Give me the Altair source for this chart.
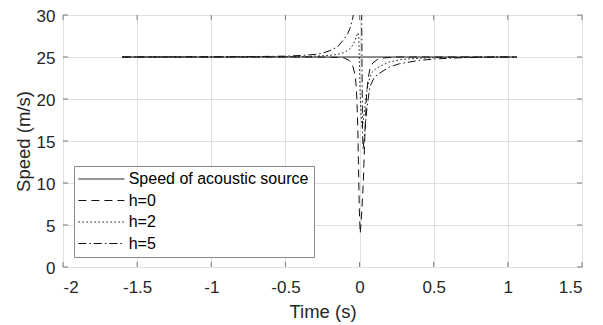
import altair as alt
import pandas as pd

# ---------------- data ----------------
series_names = ["Speed of acoustic source", "h=0", "h=2", "h=5"]

t_src = [-1.6, 1.06]
v_src = [25, 25]

t_h0 = [-1.6, -0.6, -0.3, -0.15, -0.1, -0.07, -0.05, -0.035, -0.025, -0.018, -0.012,
        -0.007, -0.002, 0.004, 0.009, 0.016, 0.025, 0.036, 0.047, 0.058, 0.07, 0.09,
        0.12, 0.17, 0.25, 1.06]
v_h0 = [25, 25, 25, 24.95, 24.85, 24.6, 24.2, 23.2, 22.0, 20.0, 16.5,
        12.0, 7.0, 4.0, 5.0, 7.0, 10.0, 15.8, 20.5, 22.5, 23.6, 24.3,
        24.7, 24.9, 25, 25]

t_h2 = [-1.6, -0.6, -0.4, -0.3, -0.2, -0.15, -0.1, -0.07, -0.05, -0.035, -0.022,
        -0.012, -0.006, -0.002, 0.003, 0.01, 0.018, 0.026, 0.035, 0.045, 0.06, 0.08,
        0.11, 0.14, 0.2, 0.28, 0.35, 0.5, 0.7, 1.06]
v_h2 = [25, 25.02, 25.05, 25.1, 25.2, 25.3, 25.55, 25.9, 26.3, 26.8, 27.4,
        27.9, 27.6, 25.0, 21.0, 18.0, 16.5, 17.5, 19.0, 20.5, 22.0, 23.1,
        23.6, 23.9, 24.4, 24.7, 24.8, 24.92, 24.98, 25]

t_h5 = [-1.6, -0.8, -0.5, -0.4, -0.3, -0.25, -0.2, -0.15, -0.11, -0.08, -0.065,
        -0.05, -0.042, -0.03, -0.02, 0.0, 0.012, 0.016, 0.02, 0.024, 0.03, 0.04,
        0.05, 0.07, 0.1, 0.137, 0.2, 0.27, 0.4, 0.54, 0.7, 0.85, 1.06]
v_h5 = [25, 25.03, 25.1, 25.18, 25.3, 25.45, 25.75, 26.2, 27.0, 27.8, 28.4,
        29.3, 30.0, 32.5, 36.0, 40.0, 36.0, 25.0, 16.0, 14.0, 15.0, 17.0,
        19.0, 21.5, 22.6, 23.1, 23.8, 24.2, 24.6, 24.8, 24.92, 24.97, 25]

x_ticks = [-2, -1.5, -1, -0.5, 0, 0.5, 1, 1.5]
y_ticks = [0, 5, 10, 15, 20, 25, 30]

dash_patterns = [[1, 0], [8, 5], [1.5, 2.5], [8, 3, 1.5, 3]]

# ---------------- build tables ----------------
rows = []
for name, ts, vs in zip(series_names, [t_src, t_h0, t_h2, t_h5], [v_src, v_h0, v_h2, v_h5]):
    for i, (t, v) in enumerate(zip(ts, vs)):
        rows.append({"t": t, "v": v, "series": name, "i": i})
df = pd.DataFrame(rows)

xt = pd.DataFrame({"t": x_ticks})
yt = pd.DataFrame({"v": y_ticks})

W, H = 519, 252
FONT = "Liberation Sans"
TXT = "#262626"
FRAME = "#7a7a7a"
TICKLEN = 5

num_expr = "datum.value < 0 ? '-' + format(-datum.value, '~g') : format(datum.value, '~g')"

xscale = alt.Scale(domain=[-2, 1.5], nice=False, zero=False)
yscale = alt.Scale(domain=[0, 30], nice=False, zero=False)

x_axis = alt.Axis(values=x_ticks, labelExpr=num_expr, ticks=False, tickSize=0, domain=False,
                  grid=True, labelPadding=12, titlePadding=7)
y_axis = alt.Axis(values=y_ticks, labelExpr=num_expr, ticks=False, tickSize=0, domain=False,
                  grid=True, labelPadding=8, titlePadding=3, labelOffset=1)


def X(field):
    return alt.X(field, scale=xscale, axis=x_axis, title="Time (s)")


def Y(field):
    return alt.Y(field, scale=yscale, axis=y_axis, title="Speed (m/s)")


# legend sample line: a wide path (10 units wide, unit = sqrt(size)/2)
SYM_R = 4.6
lines = alt.Chart(df).mark_line(clip=True, strokeWidth=1, color="#111111").encode(
    x=X("t:Q"),
    y=Y("v:Q"),
    strokeDash=alt.StrokeDash(
        "series:N",
        scale=alt.Scale(domain=series_names, range=dash_patterns),
        sort=series_names,
        legend=alt.Legend(
            title=None,
            orient="none",
            legendX=11,
            legendY=151,
            symbolType="M-5,0H5",
            symbolSize=(2 * SYM_R) ** 2,
            symbolOffset=14.4,
            symbolStrokeWidth=1,
            symbolStrokeColor="#111111",
            labelFont=FONT,
            labelFontSize=16,
            labelColor="#000000",
            labelOffset=19.3,
            labelLimit=0,
            rowPadding=5.5,
            padding=5,
            strokeColor="#8a8a8a",
            fillColor="#ffffff",
        ),
    ),
    order="i:Q",
)

tick_b = alt.Chart(xt).mark_rule(color=FRAME, strokeWidth=1).encode(
    x=X("t:Q"), y=alt.value(H), y2=alt.value(H - TICKLEN))
tick_t = alt.Chart(xt).mark_rule(color=FRAME, strokeWidth=1).encode(
    x=X("t:Q"), y=alt.value(0), y2=alt.value(TICKLEN))
tick_l = alt.Chart(yt).mark_rule(color=FRAME, strokeWidth=1).encode(
    y=Y("v:Q"), x=alt.value(0), x2=alt.value(TICKLEN))
tick_r = alt.Chart(yt).mark_rule(color=FRAME, strokeWidth=1).encode(
    y=Y("v:Q"), x=alt.value(W), x2=alt.value(W - TICKLEN))

chart = alt.layer(lines, tick_b, tick_t, tick_l, tick_r).properties(
    width=W,
    height=H,
    background="white",
    autosize=alt.AutoSizeParams(type="none"),
    padding={"left": 55, "top": 7, "right": 12, "bottom": 58},
).configure_view(
    stroke=FRAME, strokeWidth=1
).configure_axis(
    labelFont=FONT, labelFontSize=17, labelColor=TXT,
    titleFont=FONT, titleFontSize=18.5, titleFontWeight="normal", titleColor=TXT,
    gridColor="#e0e0e0", gridWidth=1,
)

chart.save("out.html", embed_options={"renderer": "svg", "actions": False})
